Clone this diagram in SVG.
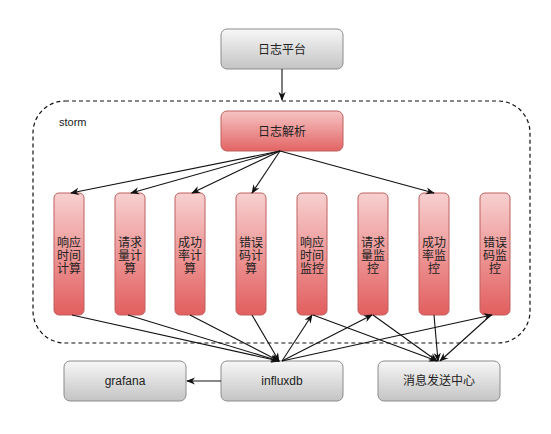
<svg xmlns="http://www.w3.org/2000/svg" width="551" height="434" viewBox="0 0 551 434">
<style>
.gray{fill:url(#g);stroke:#8c8c8c;stroke-width:1}
.red{fill:url(#r);stroke:#c06060;stroke-width:1}
.tall{fill:url(#rt);stroke:#c06060;stroke-width:1}
text{font-family:"Noto Sans CJK SC","Liberation Sans",sans-serif;font-size:12px;fill:#222;text-anchor:middle}
.c line{stroke:#111;stroke-width:1.1;marker-end:url(#a)}
</style>
<defs>
<linearGradient id="g" x1="0" y1="0" x2="0" y2="1"><stop offset="0" stop-color="#f7f7f7"/><stop offset="1" stop-color="#c4c4c4"/></linearGradient>
<linearGradient id="r" x1="0" y1="0" x2="0" y2="1"><stop offset="0" stop-color="#f6c4c4"/><stop offset="1" stop-color="#e36464"/></linearGradient>
<linearGradient id="rt" x1="0" y1="0" x2="0" y2="1"><stop offset="0" stop-color="#f8d0d0"/><stop offset="1" stop-color="#e25e5e"/></linearGradient>
<marker id="a" viewBox="0 0 10 10" refX="9" refY="5" markerWidth="9" markerHeight="9" orient="auto" markerUnits="userSpaceOnUse"><path d="M0,1 L10,5 L0,9 L3,5 z" fill="#111"/></marker>
</defs>
<rect width="551" height="434" fill="#fff"/>
<g id="storm">
<rect x="33" y="101" width="497" height="242" rx="32" ry="32" fill="none" stroke="#111" stroke-width="1.2" stroke-dasharray="4,3"/>
<text x="59" y="126" style="text-anchor:start;font-family:'Liberation Sans',sans-serif;font-size:11px">storm</text>
</g>
<g id="rizhipingtai"><rect class="gray" x="221" y="29" width="122" height="40" rx="6"/><text x="282" y="54">日志平台</text></g>
<g id="rizhijiexi"><rect class="red" x="221" y="111" width="122" height="40" rx="6"/><text x="282" y="136">日志解析</text></g>
<g id="b1"><rect class="tall" x="54" y="193" width="30" height="122" rx="5"/><text x="69" y="246.5"><tspan x="69">响应</tspan><tspan x="69" dy="13">时间</tspan><tspan x="69" dy="13">计算</tspan></text></g>
<g id="b2"><rect class="tall" x="115" y="193" width="30" height="122" rx="5"/><text x="130" y="246.5"><tspan x="130">请求</tspan><tspan x="130" dy="13">量计</tspan><tspan x="130" dy="13">算</tspan></text></g>
<g id="b3"><rect class="tall" x="175" y="193" width="30" height="122" rx="5"/><text x="190" y="246.5"><tspan x="190">成功</tspan><tspan x="190" dy="13">率计</tspan><tspan x="190" dy="13">算</tspan></text></g>
<g id="b4"><rect class="tall" x="236" y="193" width="30" height="122" rx="5"/><text x="251" y="246.5"><tspan x="251">错误</tspan><tspan x="251" dy="13">码计</tspan><tspan x="251" dy="13">算</tspan></text></g>
<g id="b5"><rect class="tall" x="297" y="193" width="30" height="122" rx="5"/><text x="312" y="246.5"><tspan x="312">响应</tspan><tspan x="312" dy="13">时间</tspan><tspan x="312" dy="13">监控</tspan></text></g>
<g id="b6"><rect class="tall" x="358" y="193" width="30" height="122" rx="5"/><text x="373" y="246.5"><tspan x="373">请求</tspan><tspan x="373" dy="13">量监</tspan><tspan x="373" dy="13">控</tspan></text></g>
<g id="b7"><rect class="tall" x="419" y="193" width="30" height="122" rx="5"/><text x="434" y="246.5"><tspan x="434">成功</tspan><tspan x="434" dy="13">率监</tspan><tspan x="434" dy="13">控</tspan></text></g>
<g id="b8"><rect class="tall" x="480" y="193" width="30" height="122" rx="5"/><text x="495" y="246.5"><tspan x="495">错误</tspan><tspan x="495" dy="13">码监</tspan><tspan x="495" dy="13">控</tspan></text></g>
<g id="grafana"><rect class="gray" x="64" y="361" width="122" height="40" rx="6"/><text x="125" y="385" style="font-family:'Liberation Sans',sans-serif">grafana</text></g>
<g id="influxdb"><rect class="gray" x="221" y="361" width="122" height="40" rx="6"/><text x="282" y="385" style="font-family:'Liberation Sans',sans-serif">influxdb</text></g>
<g id="xiaoxi"><rect class="gray" x="378" y="361" width="122" height="40" rx="6"/><text x="439" y="385">消息发送中心</text></g>
<g class="c" id="connectors">
<line x1="282" y1="69" x2="282" y2="100"/>
<line x1="280" y1="151" x2="71" y2="193"/>
<line x1="280" y1="151" x2="131" y2="193"/>
<line x1="280" y1="151" x2="192" y2="193"/>
<line x1="280" y1="151" x2="252" y2="193"/>
<line x1="280" y1="151" x2="434" y2="193"/>
<line x1="72" y1="315" x2="279" y2="361"/>
<line x1="128" y1="315" x2="279" y2="361"/>
<line x1="190" y1="315" x2="279" y2="361"/>
<line x1="252" y1="315" x2="279" y2="361"/>
<line x1="282" y1="361" x2="312" y2="315"/>
<line x1="282" y1="361" x2="372" y2="315"/>
<line x1="282" y1="361" x2="492" y2="315"/>
<line x1="313" y1="315" x2="437" y2="361"/>
<line x1="373" y1="315" x2="437" y2="361"/>
<line x1="434" y1="315" x2="438" y2="361"/>
<line x1="491" y1="315" x2="440" y2="361"/>
<line x1="221" y1="381" x2="187" y2="381"/>
</g>
</svg>
